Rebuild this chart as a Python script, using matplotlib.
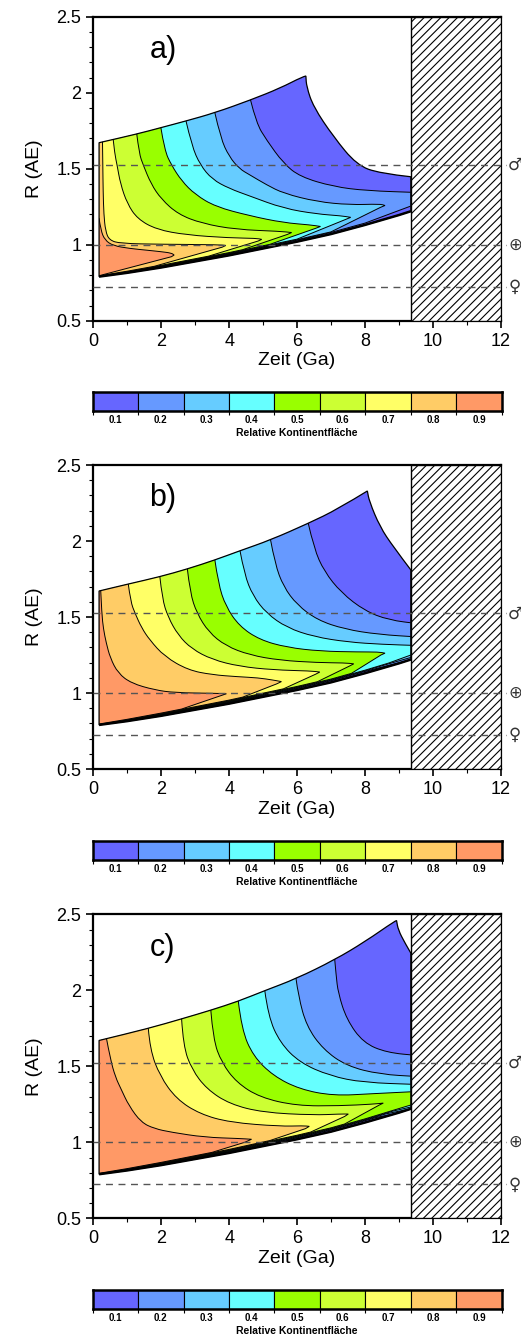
import numpy as np
import matplotlib
matplotlib.use('Agg')
import matplotlib.pyplot as plt
from matplotlib.patches import PathPatch, Rectangle
from matplotlib.path import Path
from matplotlib.ticker import MultipleLocator, FuncFormatter

plt.rcParams['font.family'] = ['Liberation Sans', 'DejaVu Sans']
plt.rcParams['hatch.linewidth'] = 0.8

levels = [0.1, 0.2, 0.3, 0.4, 0.5, 0.6, 0.7, 0.8, 0.9]
colors = ['#6666FF', '#6699FF', '#66CCFF', '#66FFFF', '#99FF00',
          '#CCFF33', '#FFFF66', '#FFCC66', '#FF9966']

planets = [1.524, 1.0, 0.723]
planet_signs = ['\u2642', '\u2295', '\u2640']

# inner edge of the habitable zone (same in all panels)
inner_t = [0.17, 1, 2, 3, 4, 5, 6, 7, 8, 9, 9.35]
inner_r = [0.79, 0.815, 0.85, 0.89, 0.93, 0.975, 1.02, 1.07, 1.13, 1.195, 1.22]
# thin band of converging contours above the inner edge
band_w = [0.006, 0.012, 0.018, 0.022, 0.026, 0.03, 0.033, 0.036, 0.04, 0.045, 0.047]
band_frac = [0.3, 0.4, 0.5, 0.6, 0.7, 0.8, 0.9, 1.0]   # levels 0.2 .. 0.9
t_end = 9.35

# ---- panel a ----
a_outer_t = [0.17, 1.28, 1.99, 2.73, 3.58, 4.63, 5.5, 6.16, 6.26, 6.28, 6.48, 7.07, 7.76, 8.44, 9.35]
a_outer_r = [1.671, 1.728, 1.77, 1.814, 1.868, 1.952, 2.03, 2.105, 2.11, 2.04, 1.908, 1.711, 1.524, 1.469, 1.447]
a_line_t = [
    [4.63, 4.8, 5.1, 5.6, 6.09, 7.07, 8.05, 9.6],
    [3.58, 3.75, 4.0, 4.3, 4.61, 5.11, 5.6, 6.58, 7.56, 8.44, 8.59],
    [2.73, 2.9, 3.15, 3.5, 4.0, 4.61, 5.6, 6.58, 7.3, 7.58],
    [1.99, 2.1, 2.3, 2.6, 3.0, 3.6, 4.61, 5.6, 6.4, 6.69],
    [1.28, 1.35, 1.47, 1.7, 2.0, 2.5, 3.2, 4.2, 5.5, 5.84],
    [0.59, 0.63, 0.70, 0.8, 1.0, 1.3, 1.86, 2.75, 4.0, 4.8, 4.96],
    [0.27, 0.28, 0.29, 0.31, 0.36, 0.47, 0.8, 2.0, 3.7, 3.9],
    [0.17, 0.22, 0.34, 0.59, 1.08, 1.57, 2.0, 2.3, 2.38],
]
a_line_r = [
    [1.952, 1.80, 1.689, 1.535, 1.447, 1.382, 1.355, 1.343],
    [1.868, 1.70, 1.58, 1.50, 1.459, 1.393, 1.338, 1.283, 1.262, 1.268, 1.258],
    [1.814, 1.65, 1.524, 1.43, 1.37, 1.32, 1.239, 1.202, 1.19, 1.18],
    [1.77, 1.62, 1.524, 1.42, 1.33, 1.25, 1.19, 1.145, 1.13, 1.12],
    [1.728, 1.6, 1.524, 1.40, 1.30, 1.20, 1.14, 1.10, 1.088, 1.08],
    [1.684, 1.6, 1.524, 1.40, 1.27, 1.17, 1.10, 1.064, 1.045, 1.042, 1.035],
    [1.69, 1.524, 1.35, 1.2, 1.09, 1.03, 1.008, 1.003, 1.0, 0.995],
    [1.173, 1.096, 1.03, 0.993, 0.975, 0.964, 0.954, 0.945, 0.932],
]
a_tip_lo = [(9.6, 1.275), (8.45, 1.245), (7.45, 1.168), (6.55, 1.108),
            (5.72, 1.068), (4.85, 1.024), (3.8, 0.984), (2.3, 0.921)]
a_merge = [8.0, 7.0, 6.0, 5.2, 4.4, 3.4, 1.8, 0.17]

# ---- panel b ----
b_outer_t = [0.17, 1.03, 1.96, 2.77, 3.58, 4.32, 5.22, 6.33, 7.2, 8.07, 8.13, 8.44, 8.83, 9.35]
b_outer_r = [1.671, 1.717, 1.765, 1.816, 1.875, 1.936, 2.007, 2.116, 2.21, 2.329, 2.26, 2.094, 1.963, 1.81]
b_line_t = [
    [6.33, 6.5, 6.8, 7.3, 8.0, 8.7, 9.6],
    [5.22, 5.35, 5.6, 6.0, 6.6, 7.4, 8.4, 9.6],
    [4.32, 4.45, 4.7, 5.1, 5.7, 6.5, 7.5, 8.5, 9.6],
    [3.58, 3.68, 3.9, 4.3, 4.9, 5.7, 6.7, 7.8, 8.4, 8.59],
    [2.77, 2.85, 3.05, 3.4, 3.9, 4.6, 5.5, 6.6, 7.4, 7.67],
    [1.96, 2.03, 2.2, 2.5, 2.9, 3.5, 4.3, 5.3, 6.4, 6.67],
    [1.03, 1.1, 1.23, 1.42, 1.66, 2.1, 2.79, 3.5, 4.26, 4.85, 5.3, 5.54],
    [0.22, 0.25, 0.3, 0.38, 0.5, 0.73, 1.12, 1.81, 2.4, 3.6, 3.92],
]
b_line_r = [
    [2.116, 1.95, 1.80, 1.66, 1.54, 1.48, 1.455],
    [2.007, 1.85, 1.70, 1.58, 1.48, 1.42, 1.385, 1.368],
    [1.936, 1.78, 1.64, 1.524, 1.43, 1.37, 1.335, 1.32, 1.312],
    [1.875, 1.72, 1.57, 1.44, 1.35, 1.30, 1.275, 1.27, 1.27, 1.262],
    [1.816, 1.66, 1.524, 1.40, 1.31, 1.25, 1.215, 1.2, 1.198, 1.192],
    [1.765, 1.62, 1.50, 1.38, 1.29, 1.22, 1.175, 1.152, 1.145, 1.138],
    [1.717, 1.6, 1.524, 1.43, 1.349, 1.24, 1.151, 1.12, 1.107, 1.1, 1.085, 1.075],
    [1.667, 1.52, 1.42, 1.33, 1.23, 1.13, 1.064, 1.02, 1.002, 0.998, 0.995],
]
b_tip_lo = [(9.6, 1.232), (9.6, 1.25), (9.6, 1.27), (8.47, 1.25),
            (7.55, 1.178), (6.55, 1.124), (5.4, 1.06), (3.67, 0.976)]
b_merge = [8.0, 8.4, 8.7, 7.6, 6.6, 5.6, 4.4, 2.6]

# ---- panel c ----
c_outer_t = [0.17, 1.62, 2.60, 3.46, 4.27, 5.05, 5.97, 7.11, 8.0, 8.88, 8.93, 8.98, 9.18, 9.35]
c_outer_r = [1.670, 1.749, 1.812, 1.869, 1.928, 1.998, 2.076, 2.201, 2.32, 2.456, 2.459, 2.397, 2.31, 2.245]
c_line_t = [
    [7.11, 7.15, 7.21, 7.46, 7.95, 8.64, 9.6],
    [5.97, 6.04, 6.28, 6.77, 7.46, 8.44, 9.6],
    [5.05, 5.15, 5.5, 6.08, 6.97, 7.95, 9.6],
    [4.27, 4.37, 4.71, 5.3, 6.08, 7.07, 8.24, 9.6],
    [3.46, 3.53, 3.78, 4.22, 4.91, 5.99, 7.26, 8.24, 8.54],
    [2.60, 2.65, 2.9, 3.34, 4.02, 5.0, 6.48, 7.26, 7.51],
    [1.62, 1.67, 1.96, 2.45, 3.14, 4.02, 5.5, 6.18, 6.36],
    [0.39, 0.5, 0.65, 0.82, 1.05, 1.41, 1.8, 2.3, 3.28, 4.3, 4.66],
]
c_line_r = [
    [2.201, 2.1, 1.983, 1.808, 1.655, 1.59, 1.57],
    [2.076, 1.961, 1.764, 1.611, 1.502, 1.447, 1.432],
    [1.998, 1.83, 1.655, 1.524, 1.437, 1.393, 1.38],
    [1.928, 1.742, 1.567, 1.437, 1.349, 1.306, 1.32, 1.335],
    [1.869, 1.677, 1.524, 1.393, 1.295, 1.24, 1.24, 1.251, 1.258],
    [1.812, 1.633, 1.48, 1.35, 1.251, 1.196, 1.179, 1.186, 1.186],
    [1.749, 1.611, 1.437, 1.284, 1.186, 1.131, 1.105, 1.109, 1.105],
    [1.681, 1.55, 1.43, 1.349, 1.24, 1.131, 1.09, 1.066, 1.033, 1.025, 1.02],
]
c_tip_lo = [(9.6, 1.22), (9.6, 1.232), (9.6, 1.245), (9.6, 1.262),
            (8.42, 1.245), (7.4, 1.17), (6.25, 1.09), (4.46, 1.0)]
c_merge = [8.3, 8.6, 8.8, 8.9, 7.4, 6.4, 5.2, 3.5]

panels = [
    ('a)', a_outer_t, a_outer_r, a_line_t, a_line_r, a_tip_lo, a_merge),
    ('b)', b_outer_t, b_outer_r, b_line_t, b_line_r, b_tip_lo, b_merge),
    ('c)', c_outer_t, c_outer_r, c_line_t, c_line_r, c_tip_lo, c_merge),
]

W, H = 521, 1342
fig = plt.figure(figsize=(W / 100, H / 100), dpi=100)

panel_top = [16.7, 465.0, 914.3]
ax_h = 304.0
x0, x1 = 93.3, 500.8


def band_r(t, k):
    return np.interp(t, inner_t, inner_r) + np.interp(t, inner_t, band_w) * band_frac[k]


def curve(pts):
    # quadratic bezier through the read points (points used as control points)
    verts, codes = [], []
    for i in range(1, len(pts) - 1):
        mid = ((pts[i][0] + pts[i + 1][0]) / 2, (pts[i][1] + pts[i + 1][1]) / 2)
        verts += [pts[i], mid]
        codes += [Path.CURVE3, Path.CURVE3]
    verts.append(pts[-1])
    codes.append(Path.LINETO)
    return verts, codes


def region(lt, lr, tip, merge, k):
    upper = list(zip(lt, lr))
    if lr[0] < 1.6:
        verts, codes = [(-1.0, lr[0])], [Path.MOVETO]
    else:
        verts, codes = [(-1.0, 3.0), (lt[0], 3.0)], [Path.MOVETO, Path.LINETO]
    verts.append(upper[0])
    codes.append(Path.LINETO)
    v, c = curve(upper)
    verts += v
    codes += c
    lower = [tip, (merge, band_r(merge, k))]
    lower += [(t, band_r(t, k)) for t in inner_t[::-1] if t < merge]
    lower.append((-1.0, band_r(inner_t[0], k)))
    verts += lower
    codes += [Path.LINETO] * len(lower)
    verts.append(verts[0])
    codes.append(Path.CLOSEPOLY)
    return Path(verts, codes)


def domain(ot, orr):
    peak = int(np.argmax(orr))
    verts = list(zip(inner_t, inner_r))
    codes = [Path.MOVETO] + [Path.LINETO] * (len(inner_t) - 1)
    right = list(zip(ot[peak:], orr[peak:]))[::-1]
    verts.append(right[0])
    codes.append(Path.LINETO)
    v, c = curve(right)
    verts += v
    codes += c
    top = list(zip(ot[:peak + 1], orr[:peak + 1]))[::-1]
    v, c = curve(top)
    verts += v
    codes += c
    verts.append(verts[0])
    codes.append(Path.CLOSEPOLY)
    return Path(verts, codes)


for i, (lab, ot, orr, lts, lrs, tips, merges) in enumerate(panels):
    top = panel_top[i]
    ax = fig.add_axes([x0 / W, 1 - (top + ax_h) / H, (x1 - x0) / W, ax_h / H])

    dom = domain(ot, orr)
    dom_patch = PathPatch(dom, facecolor=colors[0], edgecolor='none', zorder=1)
    ax.add_patch(dom_patch)
    for k in range(8):
        patch = PathPatch(region(lts[k], lrs[k], tips[k], merges[k], k),
                          facecolor=colors[k + 1], edgecolor='black', lw=0.7, zorder=2 + k)
        ax.add_patch(patch)
        patch.set_clip_path(dom_patch)
    ax.add_patch(PathPatch(dom, facecolor='none', edgecolor='black', lw=0.9, zorder=12))
    ax.plot(inner_t, inner_r, color='black', lw=1.8, zorder=12, solid_capstyle='butt')

    ax.add_patch(Rectangle((t_end, 0.5), 12 - t_end, 2.0, facecolor='white',
                           edgecolor='black', hatch='////', lw=1.0, zorder=3))

    for p, s in zip(planets, planet_signs):
        ax.plot([0, 12.15], [p, p], ls=(0, (5, 4)), color='#555555', lw=1.0,
                zorder=13, clip_on=False)
        ax.text(12.42, p, s, fontsize=12, ha='center', va='center', color='#333333',
                family=['DejaVu Sans'])

    ax.text(2.05, 2.28, lab, fontsize=22, ha='center', va='center')

    ax.set_xlim(0, 12)
    ax.set_ylim(0.5, 2.5)
    ax.xaxis.set_major_locator(MultipleLocator(2))
    ax.xaxis.set_minor_locator(MultipleLocator(1))
    ax.yaxis.set_major_locator(MultipleLocator(0.5))
    ax.yaxis.set_minor_locator(MultipleLocator(0.1))
    ax.yaxis.set_major_formatter(FuncFormatter(lambda v, p: f'{v:g}'))
    ax.tick_params(which='major', length=5, width=1.2, labelsize=13, direction='out')
    ax.tick_params(which='minor', length=3, width=0.8, direction='out')
    for sp in ax.spines.values():
        sp.set_linewidth(1.6)
    ax.set_xlabel('Zeit (Ga)', fontsize=14, labelpad=2)
    ax.set_ylabel('R (AE)', fontsize=14, labelpad=10)

    # colour bar
    cb_top = top + ax_h + 71.6
    cax = fig.add_axes([92.7 / W, 1 - (cb_top + 19) / H, 409 / W, 19 / H])
    cax.bar(levels, [1] * 9, width=0.1, color=colors, edgecolor='black', lw=0.8)
    cax.set_xlim(0.05, 0.95)
    cax.set_ylim(0, 1)
    cax.set_yticks([])
    cax.set_xticks(levels)
    cax.set_xticklabels([f'{v:.1f}' for v in levels], fontsize=7, fontweight='bold')
    cax.set_xticks(np.arange(0.05, 0.96, 0.1), minor=True)
    cax.tick_params(which='major', length=0, pad=3)
    cax.tick_params(which='minor', length=3, width=0.8)
    for sp in cax.spines.values():
        sp.set_linewidth(1.8)
    cax.set_xlabel('Relative Kontinentfläche', fontsize=7.5, fontweight='bold', labelpad=2)

fig.savefig('out.png', dpi=100)
